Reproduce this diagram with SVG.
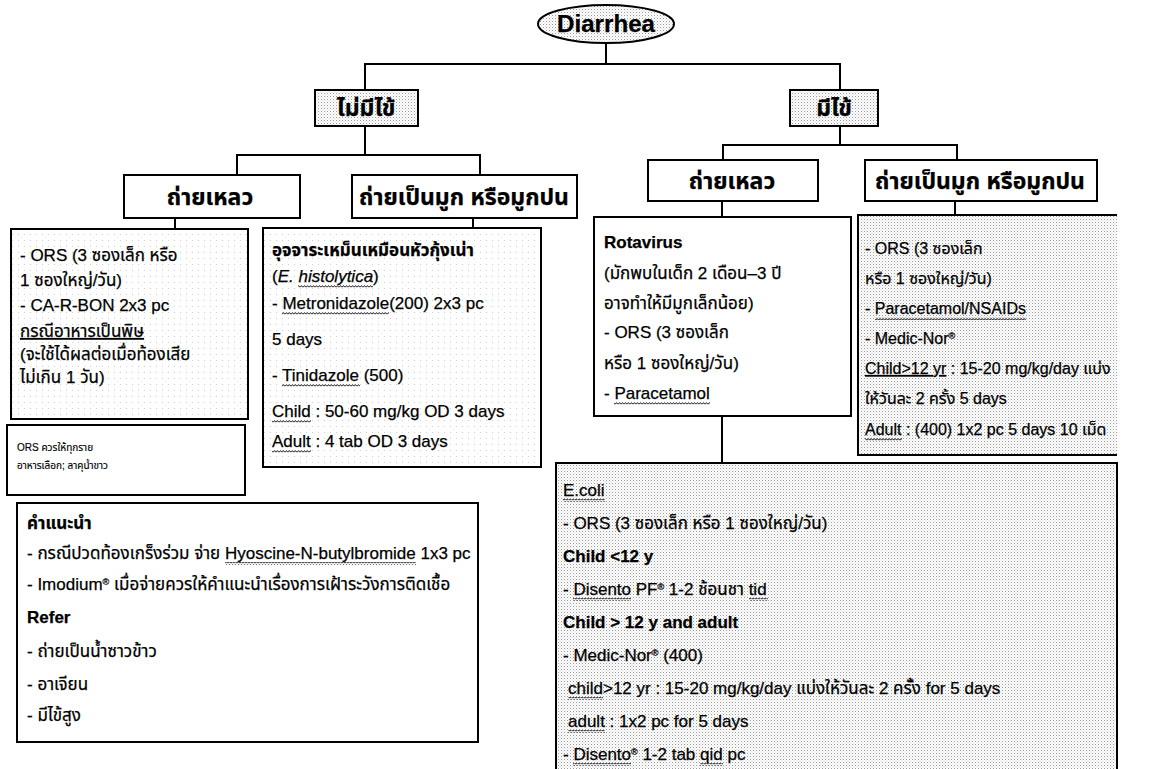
<svg xmlns="http://www.w3.org/2000/svg" width="1173" height="769" viewBox="0 0 1173 769">
<defs>
<pattern id="dots" width="3" height="3" patternUnits="userSpaceOnUse">
<rect width="3" height="3" fill="#ffffff"/>
<rect x="0" y="0" width="1" height="1" fill="#9a9a9a"/>
<rect x="1.5" y="1.5" width="1" height="1" fill="#c8c8c8"/>
</pattern>
<pattern id="sparse" width="6" height="6" patternUnits="userSpaceOnUse">
<rect width="6" height="6" fill="#ffffff"/>
<rect x="0" y="0" width="1" height="1" fill="#cfcfcf"/>
</pattern>
<pattern id="wave" width="3" height="3" patternUnits="userSpaceOnUse">
<path d="M0,2.4 L1.5,0.6 L3,2.4" fill="none" stroke="#000" stroke-width="0.9"/>
</pattern>
<style>
.box{stroke:#000;stroke-width:2;fill:#fff}
.shade{stroke:#000;stroke-width:2;fill:url(#dots)}
.light{stroke:#000;stroke-width:2;fill:url(#sparse)}
.edge{stroke:#000;stroke-width:2;fill:none}
.conn line{stroke:#000;stroke-width:2}
.wv{fill:url(#wave)}
text{font-family:"Liberation Sans","Noto Sans Thai","Noto Sans",sans-serif;fill:#000;stroke:#000;stroke-width:0.25}
.t{font-size:17px}
.r{font-size:16px}
.b{font-weight:bold}
.h{font-size:23px;font-weight:bold;text-anchor:middle}
.s{font-size:10px;stroke-width:0.15}
.u{text-decoration-line:underline}
.sup{font-size:9px;baseline-shift:super}
</style>
</defs>

<g id="connectors" class="conn">
<line x1="606" y1="43" x2="606" y2="64"/>
<line x1="364" y1="64" x2="841" y2="64"/>
<line x1="365" y1="64" x2="365" y2="90"/>
<line x1="840" y1="64" x2="840" y2="90"/>
<line x1="365" y1="126" x2="365" y2="155"/>
<line x1="236" y1="155" x2="481" y2="155"/>
<line x1="237" y1="155" x2="237" y2="175"/>
<line x1="480" y1="155" x2="480" y2="175"/>
<line x1="840" y1="126" x2="840" y2="145"/>
<line x1="722" y1="145" x2="958" y2="145"/>
<line x1="723" y1="145" x2="723" y2="160"/>
<line x1="957" y1="145" x2="957" y2="160"/>
<line x1="175" y1="218" x2="175" y2="229"/>
<line x1="473" y1="218" x2="473" y2="228"/>
<line x1="722" y1="201" x2="722" y2="217"/>
<line x1="955" y1="201" x2="955" y2="215"/>
<line x1="722" y1="416" x2="722" y2="463"/>
</g>

<g id="diarrhea">
<ellipse class="shade" cx="606" cy="24" rx="68" ry="19"/>
<text x="606" y="32" font-size="23" font-weight="bold" text-anchor="middle" textLength="98" lengthAdjust="spacingAndGlyphs">Diarrhea</text>
</g>

<g id="no-fever">
<rect class="shade" x="315" y="90" width="103" height="36"/>
<text class="h" x="366" y="116">ไม่มีไข้</text>
</g>

<g id="fever">
<rect class="shade" x="790" y="90" width="88" height="36"/>
<text class="h" x="834" y="116">มีไข้</text>
</g>

<g id="nf-watery">
<rect class="box" x="124" y="175" width="176" height="43"/>
<text class="h" x="210" y="205">ถ่ายเหลว</text>
</g>

<g id="nf-mucus">
<rect class="box" x="352" y="175" width="225" height="43"/>
<text class="h" x="464" y="205">ถ่ายเป็นมูก หรือมูกปน</text>
</g>

<g id="f-watery">
<rect class="box" x="648" y="160" width="170" height="41"/>
<text class="h" x="732" y="189">ถ่ายเหลว</text>
</g>

<g id="f-mucus">
<rect class="box" x="865" y="160" width="232" height="41"/>
<text class="h" x="980" y="189">ถ่ายเป็นมูก หรือมูกปน</text>
</g>

<g id="nf-watery-tx">
<rect class="light" x="11" y="229" width="237" height="190"/>
<text class="t" x="20" y="261">- ORS (3 ซองเล็ก หรือ</text>
<text class="t" x="20" y="286">1 ซองใหญ่/วัน)</text>
<text class="t" x="20" y="311">- CA-R-BON 2x3 pc</text>
<text class="t" x="20" y="337"><tspan class="u">กรณีอาหารเป็นพิษ</tspan></text>
<text class="t" x="20" y="360">(จะใช้ได้ผลต่อเมื่อท้องเสีย</text>
<text class="t" x="20" y="383">ไม่เกิน 1 วัน)</text>
</g>

<g id="ors-note">
<rect class="box" x="7" y="425" width="238" height="70"/>
<text class="s" x="17" y="451">ORS ควรให้ทุกราย</text>
<text class="s" x="17" y="469">อาหารเลือก; ลาคุน้ำขาว</text>
</g>

<g id="nf-mucus-tx">
<rect class="light" x="263" y="228" width="278" height="239"/>
<text class="t b" x="272" y="256">อุจจาระเหม็นเหมือนหัวกุ้งเน่า</text>
<text class="t" x="272" y="282">(<tspan font-style="italic">E. histolytica</tspan>)</text>
<rect class="wv" x="298" y="285" width="75" height="3"/>
<text class="t" x="272" y="309">- Metronidazole(200) 2x3 pc</text>
<rect class="wv" x="282" y="312" width="107" height="3"/>
<text class="t" x="272" y="345">5 days</text>
<text class="t" x="272" y="381">- Tinidazole (500)</text>
<rect class="wv" x="282" y="384" width="78" height="3"/>
<text class="t" x="272" y="417">Child : 50-60 mg/kg OD 3 days</text>
<rect class="wv" x="272" y="420" width="39" height="3"/>
<text class="t" x="272" y="447">Adult : 4 tab OD 3 days</text>
<rect class="wv" x="272" y="450" width="39" height="3"/>
</g>

<g id="rotavirus">
<rect class="box" x="594" y="217" width="257" height="199"/>
<text class="t b" x="604" y="248">Rotavirus</text>
<text class="t" x="604" y="279">(มักพบในเด็ก 2 เดือน–3 ปี</text>
<text class="t" x="604" y="309">อาจทำให้มีมูกเล็กน้อย)</text>
<text class="t" x="604" y="338">- ORS (3 ซองเล็ก</text>
<text class="t" x="604" y="369">หรือ 1 ซองใหญ่/วัน)</text>
<text class="t" x="604" y="399">- Paracetamol</text>
<rect class="wv" x="614" y="402" width="96" height="3"/>
</g>

<g id="f-mucus-tx">
<rect x="858" y="215" width="259" height="240" fill="url(#dots)"/>
<polyline class="edge" points="1117,215 858,215 858,455 1117,455"/>
<text class="r" x="865" y="254">- ORS (3 ซองเล็ก</text>
<text class="r" x="865" y="284">หรือ 1 ซองใหญ่/วัน)</text>
<text class="r" x="865" y="314">- Paracetamol/NSAIDs</text>
<rect class="wv" x="875" y="317" width="151" height="3"/>
<text class="r" x="865" y="344">- Medic-Nor<tspan class="sup">®</tspan></text>
<text class="r" x="865" y="374"><tspan class="u">Child&gt;12 yr</tspan> : 15-20 mg/kg/day แบ่ง</text>
<text class="r" x="865" y="404">ให้วันละ 2 ครั้ง 5 days</text>
<text class="r" x="865" y="435">Adult : (400) 1x2 pc 5 days 10 เม็ด</text>
<rect class="wv" x="865" y="438" width="37" height="3"/>
</g>

<g id="ecoli">
<rect class="shade" x="556" y="463" width="561" height="330"/>
<text class="t" x="563" y="496">E.coli</text>
<rect class="wv" x="563" y="499" width="42" height="3"/>
<text class="t" x="563" y="529">- ORS (3 ซองเล็ก หรือ 1 ซองใหญ่/วัน)</text>
<text class="t b" x="563" y="562">Child &lt;12 y</text>
<text class="t" x="563" y="595">- Disento PF<tspan class="sup">®</tspan> 1-2 ช้อนชา tid</text>
<rect class="wv" x="573" y="598" width="58" height="3"/>
<rect class="wv" x="749" y="598" width="19" height="3"/>
<text class="t b" x="563" y="628">Child &gt; 12 y and adult</text>
<text class="t" x="563" y="661">- Medic-Nor<tspan class="sup">®</tspan> (400)</text>
<text class="t" x="568" y="694">child&gt;12 yr : 15-20  mg/kg/day แบ่งให้วันละ 2 ครั้ง for 5 days</text>
<rect class="wv" x="568" y="697" width="35" height="3"/>
<text class="t" x="568" y="727">adult : 1x2 pc for 5 days</text>
<rect class="wv" x="568" y="730" width="37" height="3"/>
<text class="t" x="563" y="760">- Disento<tspan class="sup">®</tspan> 1-2 tab qid pc</text>
<rect class="wv" x="573" y="763" width="58" height="3"/>
<rect class="wv" x="700" y="763" width="23" height="3"/>
</g>

<g id="advice">
<rect class="box" x="17" y="503" width="461" height="239"/>
<text class="t b" x="27" y="529">คำแนะนำ</text>
<text class="t" x="27" y="559">- กรณีปวดท้องเกร็งร่วม จ่าย Hyoscine-N-butylbromide 1x3 pc</text>
<rect class="wv" x="225" y="562" width="191" height="3"/>
<text class="t" x="27" y="590">- Imodium<tspan class="sup">®</tspan> เมื่อจ่ายควรให้คำแนะนำเรื่องการเฝ้าระวังการติดเชื้อ</text>
<text class="t b" x="27" y="623">Refer</text>
<text class="t" x="27" y="657">- ถ่ายเป็นน้ำซาวข้าว</text>
<text class="t" x="27" y="690">- อาเจียน</text>
<text class="t" x="27" y="721">- มีไข้สูง</text>
</g>
</svg>
